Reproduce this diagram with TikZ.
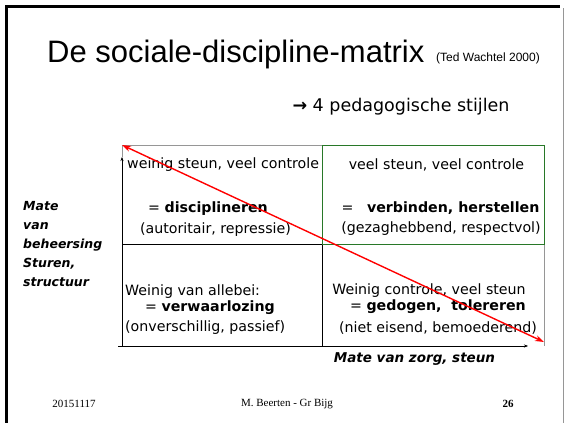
\documentclass[tikz,border=0pt]{standalone}
\usepackage{fontspec}
\setmainfont{Liberation Serif}
\newfontfamily\slidesans{Liberation Sans}
\newfontfamily\comic{DejaVu Sans}
\usetikzlibrary{arrows.meta,positioning}
\definecolor{cellgreen}{RGB}{40,120,40}
\definecolor{framegray}{RGB}{150,150,150}
\tikzset{
	celltext/.style={font=\comic\fontsize{14.2}{16}\selectfont, inner sep=0pt},
	axislabel/.style={font=\comic\bfseries\itshape\fontsize{13.5}{19}\selectfont, inner sep=0pt},
	footer/.style={font=\fontsize{11}{13}\selectfont, inner sep=0pt},
	axis/.style={thin, -{Stealth[length=4pt,width=3pt]}},
	diag/.style={red, line width=1.4pt, {Stealth[length=9pt,width=6pt]}-{Stealth[length=9pt,width=6pt]}},
}

\begin{document}
\begin{tikzpicture}[x=1pt,y=-1pt]
	\useasboundingbox (0,0) rectangle (566,423);
	\draw [line width=3pt] (6.5,423) -- (6.5,6.5) -- (560,6.5);
	\draw [framegray, line width=.8pt] (563,8) -- (563,423);
	\node[anchor=base west, inner sep=0pt, font=\slidesans\fontsize{31}{37}\selectfont] (title) at (47,62) {De sociale-discipline-matrix};
	\node[anchor=base west, inner sep=0pt, font=\slidesans\fontsize{12}{14}\selectfont] (src) at (436,61) {(Ted Wachtel 2000)};
	\node[font=\comic\fontsize{17.5}{20}\selectfont, inner sep=0pt] (stijlen) at (401,107) {\textbf{→} 4 pedagogische stijlen};
	\coordinate (nw) at (122,145); \coordinate (n) at (322,145); \coordinate (ne) at (544,145);
	\coordinate (w) at (122,244); \coordinate (c) at (322,244); \coordinate (e) at (544,244);
	\coordinate (sw) at (122,346); \coordinate (s) at (322,346); \coordinate (se) at (544,346);
	\draw [framegray] (nw) -- (n) (e) -- (se) (nw) -- ++(0,12);
	\draw (n) -- (s) (w) -- (c);
	\draw [cellgreen] (n) rectangle (e);
	\draw [axis] (sw) ++(-4,0) -- ++(410,0);
	\draw [axis] (sw) -- ++(0,-189);
	\node[celltext, anchor=west] (tl1) at (127,165) {weinig steun, veel controle};
	\node[celltext] (tl2) at (208,209) {= \textbf{disciplineren}};
	\node[celltext] (tl3) at (215.5,230) {(autoritair, repressie)};
	\node[celltext] (tr1) at (436.5,165) {veel steun, veel controle};
	\node[celltext] (tr2) at (440.5,208) {=~~ \textbf{verbinden, herstellen}};
	\node[celltext] (tr3) at (441,229) {(gezaghebbend, respectvol)};
	\node[celltext, anchor=west] (bl1) at (125,292) {Weinig van allebei:};
	\node[celltext] (bl2) at (210,308) {= \textbf{verwaarlozing}};
	\node[celltext, anchor=west] (bl3) at (125,328) {(onverschillig, passief)};
	\node[celltext] (br1) at (429,291) {Weinig controle, veel steun};
	\node[celltext] (br2) at (438,307) {= \textbf{gedogen,~ tolereren}};
	\node[celltext] (br3) at (438,328) {(niet eisend, bemoederend)};
	\node[axislabel] (zorg) at (414.5,359) {Mate van zorg, steun};
	\node[axislabel, anchor=north west, align=left, font=\comic\bfseries\itshape\fontsize{12.5}{19}\selectfont] (mate) at (23,201) {Mate\\van\\beheersing\\Sturen,\\structuur};
	\draw [diag] (nw) -- ([yshift=4pt]se);
	\node[footer] (date) at (74,404) {20151117};
	\node[footer] (auth) at (287,404) {M. Beerten - Gr Bijg};
	\node[footer, font=\bfseries\fontsize{11}{13}\selectfont] (page) at (508,404) {26};
\end{tikzpicture}
\end{document}
